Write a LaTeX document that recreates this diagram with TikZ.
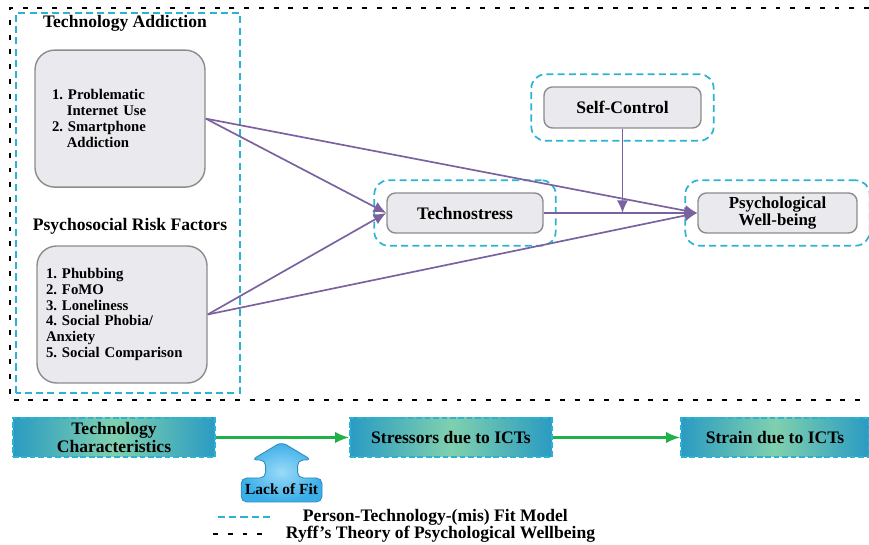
\documentclass[tikz,border=0pt]{standalone}
\usepackage{fontspec}
\setmainfont{Liberation Serif}
\usepackage{tikz}
\usetikzlibrary{arrows.meta,positioning,fit,calc}
\frenchspacing
\definecolor{FitCyan}{HTML}{2BB3D3}
\definecolor{PathPurple}{HTML}{7A62A0}
\definecolor{BoxGray}{HTML}{EAE9EE}
\definecolor{BoxEdge}{HTML}{8C8C8C}
\definecolor{IctTeal}{HTML}{2A9BC2}
\definecolor{IctMint}{HTML}{80D0AE}
\definecolor{FlowGreen}{HTML}{22B04B}
\definecolor{LackBlue}{HTML}{3AAEE8}
\definecolor{LackSky}{HTML}{9ADAF8}
\tikzset{
  figtext/.style={font=\bfseries\fontsize{12.5}{13}\selectfont, text=black},
  listtext/.style={font=\bfseries\fontsize{10.5}{11.3}\selectfont, align=left},
  modelbox/.style={draw=BoxEdge, line width=1pt, fill=BoxGray, rounded corners=6pt, align=center, minimum height=1cm},
  groupbox/.style={modelbox, rounded corners=14pt, minimum width=4.25cm, minimum height=3.425cm},
  fitring/.style={draw=FitCyan, line width=1.2pt, dash pattern=on 5pt off 3pt, rounded corners=10pt, inner sep=0.3cm},
  ryffline/.style={draw=black, line width=1.4pt, dash pattern=on 3.5pt off 7pt},
  ictbox/.style={draw=FitCyan, line width=1pt, dash pattern=on 4pt off 2pt, left color=IctTeal, right color=IctTeal, middle color=IctMint, minimum width=5.05cm, minimum height=0.975cm, inner ysep=1pt, align=center},
  pathline/.style={-{Latex[length=9pt,width=8pt]}, line width=1.2pt, draw=PathPurple},
  flowline/.style={-{Latex[length=10pt,width=8pt]}, line width=1.7pt, draw=FlowGreen}
}
\begin{document}
\begin{tikzpicture}[every node/.style={figtext}]
\useasboundingbox (0,0) rectangle (21.725,13.625);
% Ryff frame
\draw[ryffline] (21.725,13.425) -- (0.25,13.425) -- (0.25,3.625) -- (21.725,3.625);
% left panel
\draw[fitring, rounded corners=0pt] (0.4,3.8) rectangle (6.0,13.3);
\node (tatitle) at (3.125,13.05) {Technology Addiction};
\node[groupbox, listtext, text width=3.4cm] (ta) at (3.0,10.66) {1. Problematic\\\hspace*{1em}Internet Use\\2. Smartphone\\\hspace*{1em}Addiction};
\node (prftitle) at (3.25,7.975) {Psychosocial Risk Factors};
\node[groupbox, listtext, text width=3.8cm] (prf) at (3.05,5.7625) {1. Phubbing\\2. FoMO\\3. Loneliness\\4. Social Phobia/\\Anxiety\\5. Social Comparison};
% model
\node[modelbox, minimum width=3.9cm] (ts) at (11.625,8.3) {Technostress};
\node[modelbox, minimum width=3.925cm, minimum height=1.025cm] (sc) at (15.5625,10.9375) {Self-Control};
\node[modelbox, minimum width=3.975cm, inner ysep=1pt, font=\bfseries\fontsize{12}{12.5}\selectfont] (pwb) at (19.4375,8.3) {Psychological\\Well-being};
\foreach \n in {ts,sc,pwb} \node[fitring, fit=(\n)] {};
\draw[pathline] (ta.east) -- (ts.west);
\draw[pathline] (ta.east) -- (pwb.west);
\draw[pathline] (prf.east) -- (ts.west);
\draw[pathline] (prf.east) -- (pwb.west);
\draw[pathline] (ts.east) -- (pwb.west);
\draw[pathline] (sc.south) -- (sc.south |- ts.east);
% person-technology fit
\node[ictbox] (tc) at (2.85,2.6875) {Technology\\Characteristics};
\node[ictbox] (st) at (11.275,2.6875) {Stressors due to ICTs};
\node[ictbox, minimum width=4.7cm] (sn) at (19.375,2.6875) {Strain due to ICTs};
\draw[flowline] (tc) -- (st);
\draw[flowline] (st) -- (sn);
\path[draw=LackBlue!80!black, line width=0.6pt, inner color=LackSky, outer color=LackBlue, rounded corners=4pt]
  (7.04,2.575) -- (7.79,2.125) -- (7.44,2.125) -- (7.44,1.675) -- (8.05,1.675) -- (8.05,1.075)
  -- (6.03,1.075) -- (6.03,1.675) -- (6.64,1.675) -- (6.64,2.125) -- (6.29,2.125) -- cycle;
\node[font=\bfseries\fontsize{11}{12}\selectfont] (lack) at (7.04,1.39) {Lack of Fit};
% legend
\draw[fitring] (5.45,0.7) -- (6.825,0.7);
\node[anchor=west] (pfkey) at (7.45,0.7) {Person-Technology-(mis) Fit Model};
\draw[ryffline] (5.325,0.275) -- (6.75,0.275);
\node[anchor=west] (ryffkey) at (7.025,0.275) {Ryff's Theory of Psychological Wellbeing};
\end{tikzpicture}
\end{document}
